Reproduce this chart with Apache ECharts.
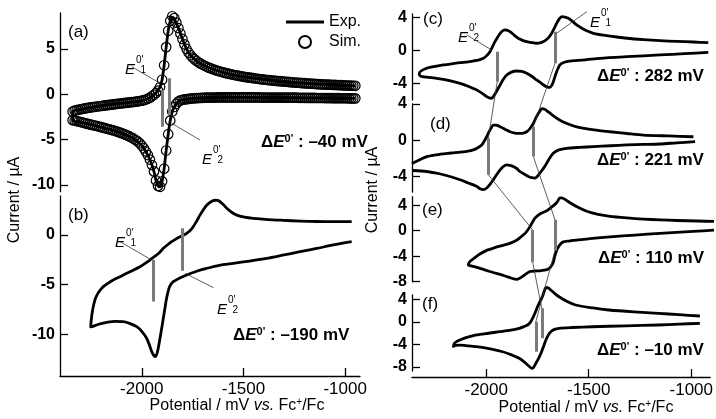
<!DOCTYPE html>
<html><head><meta charset="utf-8">
<script src="https://cdn.jsdelivr.net/npm/echarts@6/dist/echarts.min.js"></script>
<style>html,body{margin:0;padding:0;background:#fff}#c{width:716px;height:419px}</style>
</head><body><div id="c"></div>
<script>
// ---------------- DATA ----------------
const potTicks = [-2000, -1500, -1000];
const curTicksA = [-10, -5, 0, 5];
const curTicksB = [-10, -5, 0];
const curTicksC = [-4, 0, 4];
const curTicksD = [-4, 0, 4];
const curTicksE = [-8, -4, 0, 4];
const curTicksF = [-8, -4, 0, 4];

const panelLabels = ['(a)', '(b)', '(c)', '(d)', '(e)', '(f)'];
const deltaLabels = ['\u201340', '\u2013190', '282', '221', '110', '\u201310'];

// (a) experimental CV [E / mV, I / uA]
const expA = [[-950,-0.45],[-1100,-0.42],[-1300,-0.38],[-1500,-0.35],[-1650,-0.36],[-1750,-0.46],[-1790,-0.58],[-1810,-0.65],[-1830,-1.05],[-1840,-1.4],[-1850,-1.9],[-1860,-2.9],[-1870,-4.4],[-1880,-6.2],[-1890,-8.2],[-1900,-9.6],[-1910,-10.2],[-1920,-10.1],[-1930,-9.5],[-1940,-8.5],[-1960,-7.2],[-1980,-6.3],[-2000,-5.65],[-2040,-4.9],[-2100,-4.28],[-2160,-3.86],[-2220,-3.5],[-2280,-3.18],[-2340,-2.85],
[-2340,-1.9],[-2300,-1.65],[-2200,-1.29],[-2100,-1.0],[-2040,-0.85],[-2000,-0.7],[-1970,-0.5],[-1950,-0.22],[-1930,0.15],[-1910,0.8],[-1900,1.6],[-1890,3.2],[-1880,5.2],[-1870,7.0],[-1860,8.1],[-1850,8.5],[-1840,8.3],[-1820,7.3],[-1800,6.1],[-1780,5.0],[-1760,4.3],[-1720,3.5],[-1680,3.03],[-1620,2.54],[-1550,2.15],[-1450,1.77],[-1350,1.5],[-1250,1.3],[-1150,1.15],[-1050,1.03],[-950,0.93]];

// (a) simulated CV, cathodic sweep then anodic sweep
const simRedA = [[-950,-0.45],[-960,-0.45],[-970,-0.45],[-980,-0.45],[-990,-0.44],[-1000,-0.44],[-1010,-0.44],[-1020,-0.44],[-1030,-0.43],[-1040,-0.43],[-1050,-0.43],[-1060,-0.43],[-1070,-0.42],[-1080,-0.42],[-1090,-0.42],[-1100,-0.42],[-1110,-0.41],[-1120,-0.41],[-1130,-0.41],[-1140,-0.41],[-1150,-0.40],[-1160,-0.40],[-1170,-0.40],[-1180,-0.40],[-1190,-0.40],[-1200,-0.39],[-1210,-0.39],[-1220,-0.39],[-1230,-0.39],[-1240,-0.38],[-1250,-0.38],[-1260,-0.38],[-1270,-0.38],[-1280,-0.38],[-1290,-0.38],[-1300,-0.37],[-1310,-0.37],[-1320,-0.37],[-1330,-0.37],[-1340,-0.37],[-1350,-0.37],[-1360,-0.36],[-1370,-0.36],[-1380,-0.36],[-1390,-0.36],[-1400,-0.36],[-1410,-0.36],[-1420,-0.35],[-1430,-0.35],[-1440,-0.35],[-1450,-0.35],[-1460,-0.35],[-1470,-0.35],[-1480,-0.35],[-1490,-0.35],[-1500,-0.35],[-1510,-0.35],[-1520,-0.35],[-1530,-0.35],[-1540,-0.34],[-1550,-0.34],[-1560,-0.34],[-1570,-0.34],[-1580,-0.34],[-1590,-0.34],[-1600,-0.34],[-1610,-0.35],[-1620,-0.35],[-1630,-0.35],[-1640,-0.36],[-1650,-0.36],[-1660,-0.36],[-1670,-0.37],[-1680,-0.37],[-1690,-0.38],[-1700,-0.39],[-1710,-0.40],[-1720,-0.41],[-1730,-0.43],[-1740,-0.44],[-1750,-0.46],[-1760,-0.48],[-1770,-0.51],[-1780,-0.54],[-1790,-0.57],[-1800,-0.61],[-1810,-0.67],[-1820,-0.8],[-1830,-1.05],[-1840,-1.4],[-1850,-1.9],[-1860,-2.9],[-1870,-4.4],[-1880,-6.2],[-1890,-8.2],[-1900,-9.6],[-1910,-10.2],[-1920,-10.1],[-1930,-9.5],[-1940,-8.5],[-1950,-7.8],[-1960,-7.2],[-1970,-6.7],[-1980,-6.3],[-1990,-5.95],[-2000,-5.65],[-2010,-5.4],[-2020,-5.2],[-2030,-5.05],[-2040,-4.9],[-2050,-4.77],[-2060,-4.65],[-2070,-4.55],[-2080,-4.45],[-2090,-4.36],[-2100,-4.28],[-2110,-4.2],[-2120,-4.12],[-2130,-4.05],[-2140,-3.98],[-2150,-3.92],[-2160,-3.86],[-2170,-3.8],[-2180,-3.74],[-2190,-3.68],[-2200,-3.62],[-2210,-3.56],[-2220,-3.5],[-2230,-3.45],[-2240,-3.4],[-2250,-3.35],[-2260,-3.3],[-2270,-3.24],[-2280,-3.18],[-2290,-3.12],[-2300,-3.06],[-2310,-3.0],[-2320,-2.95],[-2330,-2.9],[-2340,-2.85]];
const simOxA = [[-2340,-1.9],[-2330,-1.8],[-2320,-1.75],[-2310,-1.7],[-2300,-1.65],[-2290,-1.6],[-2280,-1.56],[-2270,-1.52],[-2260,-1.48],[-2250,-1.44],[-2240,-1.41],[-2230,-1.38],[-2220,-1.35],[-2210,-1.32],[-2200,-1.29],[-2190,-1.26],[-2180,-1.23],[-2170,-1.2],[-2160,-1.17],[-2150,-1.14],[-2140,-1.11],[-2130,-1.08],[-2120,-1.05],[-2110,-1.02],[-2100,-1.0],[-2090,-0.97],[-2080,-0.95],[-2070,-0.92],[-2060,-0.9],[-2050,-0.87],[-2040,-0.85],[-2030,-0.82],[-2020,-0.78],[-2010,-0.74],[-2000,-0.7],[-1990,-0.65],[-1980,-0.58],[-1970,-0.49],[-1960,-0.38],[-1950,-0.22],[-1940,-0.05],[-1930,0.15],[-1920,0.4],[-1910,0.8],[-1900,1.6],[-1890,3.2],[-1880,5.2],[-1870,7.0],[-1860,8.1],[-1850,8.6],[-1840,8.4],[-1830,7.9],[-1820,7.3],[-1810,6.7],[-1800,6.1],[-1790,5.5],[-1780,5.0],[-1770,4.6],[-1760,4.3],[-1750,4.05],[-1740,3.85],[-1730,3.67],[-1720,3.5],[-1710,3.37],[-1700,3.25],[-1690,3.14],[-1680,3.03],[-1670,2.94],[-1660,2.85],[-1650,2.76],[-1640,2.68],[-1630,2.61],[-1620,2.54],[-1610,2.48],[-1600,2.42],[-1590,2.36],[-1580,2.3],[-1570,2.25],[-1560,2.2],[-1550,2.15],[-1540,2.1],[-1530,2.06],[-1520,2.02],[-1510,1.98],[-1500,1.94],[-1490,1.9],[-1480,1.87],[-1470,1.83],[-1460,1.8],[-1450,1.77],[-1440,1.74],[-1430,1.71],[-1420,1.68],[-1410,1.65],[-1400,1.62],[-1390,1.6],[-1380,1.57],[-1370,1.55],[-1360,1.52],[-1350,1.5],[-1340,1.48],[-1330,1.46],[-1320,1.44],[-1310,1.42],[-1300,1.4],[-1290,1.38],[-1280,1.36],[-1270,1.34],[-1260,1.32],[-1250,1.3],[-1240,1.28],[-1230,1.27],[-1220,1.25],[-1210,1.23],[-1200,1.22],[-1190,1.2],[-1180,1.19],[-1170,1.17],[-1160,1.16],[-1150,1.14],[-1140,1.13],[-1130,1.11],[-1120,1.1],[-1110,1.09],[-1100,1.08],[-1090,1.07],[-1080,1.06],[-1070,1.05],[-1060,1.04],[-1050,1.03],[-1040,1.02],[-1030,1.01],[-1020,1.0],[-1010,0.99],[-1000,0.98],[-990,0.97],[-980,0.96],[-970,0.95],[-960,0.94],[-950,0.93]];

const expB = [[-968,-0.67],[-1058,-1.0],[-1140,-1.35],[-1222,-1.68],[-1300,-2.0],[-1386,-2.35],[-1470,-2.62],[-1550,-2.85],[-1620,-3.05],[-1681,-3.36],[-1730,-3.65],[-1779,-4.03],[-1815,-4.35],[-1845,-4.7],[-1862,-5.15],[-1872,-5.8],[-1880,-6.6],[-1886,-7.38],[-1895,-8.5],[-1902,-9.4],[-1912,-10.6],[-1919,-11.4],[-1926,-12.0],[-1932,-12.25],[-1940,-12.15],[-1951,-11.75],[-1962,-11.1],[-1976,-10.4],[-2000,-9.7],[-2025,-9.23],[-2060,-8.9],[-2091,-8.73],[-2130,-8.7],[-2172,-8.8],[-2200,-8.93],[-2222,-9.06],[-2240,-9.2],[-2251,-9.25],
[-2248,-8.5],[-2242,-7.6],[-2236,-7.0],[-2228,-6.4],[-2215,-5.85],[-2200,-5.45],[-2189,-5.2],[-2165,-4.85],[-2140,-4.53],[-2107,-4.2],[-2074,-3.86],[-2040,-3.53],[-2009,-3.2],[-1985,-2.88],[-1960,-2.52],[-1945,-2.28],[-1927,-2.01],[-1910,-1.7],[-1894,-1.34],[-1873,-0.98],[-1853,-0.67],[-1830,-0.38],[-1812,-0.17],[-1795,-0.02],[-1779,0.17],[-1762,0.45],[-1747,0.84],[-1730,1.4],[-1714,2.0],[-1697,2.55],[-1681,3.0],[-1660,3.35],[-1640,3.5],[-1627,3.48],[-1615,3.35],[-1598,3.05],[-1582,2.69],[-1560,2.32],[-1533,2.0],[-1495,1.8],[-1452,1.68],[-1380,1.56],[-1304,1.48],[-1220,1.4],[-1140,1.36],[-1050,1.34],[-968,1.34]];

const expC = [[-926,-0.22],[-1040,-0.38],[-1160,-0.54],[-1321,-0.75],[-1451,-0.94],[-1515,-1.1],[-1570,-1.22],[-1612,-1.35],[-1635,-1.55],[-1645,-1.74],[-1655,-2.2],[-1661,-2.55],[-1670,-3.2],[-1677,-3.75],[-1685,-4.2],[-1693,-4.43],[-1705,-4.4],[-1717,-4.27],[-1738,-3.9],[-1758,-3.55],[-1782,-3.1],[-1806,-2.74],[-1830,-2.52],[-1855,-2.47],[-1880,-2.6],[-1903,-2.95],[-1920,-3.5],[-1935,-4.15],[-1952,-4.9],[-1968,-5.56],[-1976,-5.75],[-1988,-5.7],[-2000,-5.56],[-2020,-5.2],[-2048,-4.75],[-2090,-4.3],[-2129,-3.95],[-2170,-3.68],[-2210,-3.47],[-2250,-3.33],[-2291,-3.22],[-2320,-3.1],[-2327,-2.83],
[-2320,-2.5],[-2291,-2.14],[-2250,-1.92],[-2210,-1.74],[-2170,-1.6],[-2129,-1.47],[-2090,-1.36],[-2065,-1.26],[-2040,-1.15],[-2016,-0.94],[-2000,-0.62],[-1984,-0.14],[-1972,0.45],[-1960,1.06],[-1947,1.6],[-1935,2.07],[-1923,2.35],[-1911,2.47],[-1899,2.42],[-1887,2.26],[-1867,1.85],[-1847,1.47],[-1826,1.22],[-1806,1.06],[-1782,0.95],[-1758,0.87],[-1737,0.95],[-1717,1.18],[-1700,1.55],[-1685,2.07],[-1672,2.7],[-1661,3.27],[-1648,3.8],[-1636,4.07],[-1620,4.02],[-1604,3.87],[-1584,3.5],[-1564,3.07],[-1530,2.55],[-1483,2.07],[-1400,1.72],[-1321,1.47],[-1240,1.3],[-1160,1.18],[-1080,1.09],[-998,1.02],[-926,0.94]];

const expD = [[-990,-0.15],[-1080,-0.28],[-1160,-0.41],[-1241,-0.46],[-1321,-0.51],[-1400,-0.6],[-1483,-0.70],[-1550,-0.78],[-1612,-0.88],[-1650,-1.05],[-1677,-1.42],[-1693,-1.9],[-1709,-2.52],[-1725,-3.1],[-1742,-3.61],[-1755,-4.0],[-1766,-4.16],[-1782,-4.12],[-1798,-3.99],[-1820,-3.7],[-1839,-3.44],[-1855,-3.1],[-1871,-2.89],[-1887,-2.76],[-1903,-2.71],[-1920,-2.9],[-1935,-3.25],[-1952,-3.8],[-1968,-4.35],[-1984,-4.85],[-2000,-5.26],[-2016,-5.44],[-2032,-5.35],[-2048,-5.08],[-2090,-4.7],[-2129,-4.35],[-2170,-4.05],[-2210,-3.80],[-2250,-3.6],[-2291,-3.44],[-2362,-3.33]];
const expD2 = [[-2362,-2.55],[-2320,-2.1],[-2291,-1.8],[-2250,-1.62],[-2210,-1.5],[-2170,-1.4],[-2129,-1.31],[-2090,-1.2],[-2065,-1.06],[-2045,-0.85],[-2024,-0.51],[-2012,-0.1],[-2000,0.39],[-1992,0.8],[-1984,1.13],[-1976,1.45],[-1968,1.68],[-1955,1.66],[-1935,1.49],[-1910,1.2],[-1887,0.94],[-1863,0.8],[-1839,0.77],[-1822,0.8],[-1806,0.94],[-1790,1.3],[-1774,1.86],[-1762,2.45],[-1750,2.96],[-1740,3.3],[-1733,3.5],[-1717,3.4],[-1701,3.13],[-1675,2.67],[-1645,2.22],[-1605,1.8],[-1564,1.49],[-1480,1.15],[-1402,0.94],[-1320,0.75],[-1241,0.58],[-1120,0.48],[-998,0.39]];

const expE = [[-893,0.11],[-1000,-0.12],[-1160,-0.42],[-1280,-0.69],[-1402,-0.96],[-1500,-1.25],[-1564,-1.49],[-1600,-1.62],[-1629,-1.76],[-1645,-2.2],[-1655,-2.7],[-1661,-3.09],[-1670,-4.0],[-1677,-4.96],[-1688,-5.6],[-1701,-6.02],[-1720,-6.2],[-1742,-6.29],[-1766,-6.32],[-1790,-6.4],[-1806,-6.7],[-1823,-7.09],[-1840,-7.45],[-1855,-7.62],[-1870,-7.55],[-1887,-7.36],[-1920,-7.0],[-1968,-6.56],[-2010,-6.15],[-2048,-5.76],[-2081,-5.49],[-2089,-5.4],
[-2085,-5.0],[-2075,-4.65],[-2065,-4.42],[-2035,-3.7],[-2000,-3.09],[-1960,-2.65],[-1920,-2.29],[-1885,-1.95],[-1855,-1.49],[-1835,-1.0],[-1814,-0.42],[-1800,0.15],[-1790,0.64],[-1778,1.35],[-1766,1.98],[-1750,2.45],[-1733,2.78],[-1716,3.0],[-1701,3.31],[-1680,3.85],[-1661,4.38],[-1652,4.85],[-1645,5.15],[-1636,5.15],[-1620,4.9],[-1596,4.38],[-1560,3.7],[-1515,3.04],[-1460,2.55],[-1402,2.24],[-1320,2.0],[-1241,1.82],[-1160,1.7],[-1079,1.6],[-980,1.52],[-893,1.44]];

const expF = [[-958,-0.23],[-1060,-0.38],[-1160,-0.53],[-1320,-0.68],[-1483,-0.84],[-1580,-0.98],[-1645,-1.12],[-1670,-1.35],[-1685,-1.73],[-1697,-2.3],[-1709,-3.2],[-1720,-4.3],[-1733,-5.57],[-1745,-6.5],[-1758,-7.35],[-1768,-8.0],[-1774,-8.24],[-1782,-8.15],[-1798,-7.66],[-1815,-7.1],[-1839,-6.46],[-1880,-5.8],[-1920,-5.29],[-1980,-4.8],[-2048,-4.4],[-2100,-4.2],[-2129,-4.1],[-2150,-4.15],[-2160,-4.35],
[-2155,-3.8],[-2145,-3.5],[-2129,-3.2],[-2090,-2.7],[-2048,-2.31],[-1990,-2.0],[-1935,-1.73],[-1880,-1.45],[-1839,-1.12],[-1815,-0.8],[-1798,-0.53],[-1785,-0.05],[-1774,0.66],[-1762,1.6],[-1750,2.72],[-1738,3.65],[-1726,4.5],[-1717,5.5],[-1709,6.1],[-1700,6.1],[-1685,5.7],[-1665,5.05],[-1645,4.5],[-1605,3.65],[-1564,3.03],[-1480,2.5],[-1402,2.14],[-1280,1.8],[-1160,1.55],[-1060,1.3],[-958,1.07]];

// formal potential markers per panel: [E, I top, I bottom]
const barsA = [[-1899, 0.47, -3.57], [-1866, 1.76, -2.29]];
const barsB = [[-1943, -2.5, -6.7], [-1801, 0.67, -3.6]];
const barsC = [[-1949, -0.14, -3.75], [-1669, 2.26, -1.54]];
const barsD = [[-1992, 0.22, -3.8], [-1774, 1.49, -1.8]];
const barsE = [[-1777, 0.11, -4.96], [-1669, 1.71, -3.09]];
const barsF = [[-1758, 0.05, -5.29], [-1729, 2.44, -2.9]];

// leader lines [E1, I1, E2, I2]
const leadersA = [[-2049, 3.04, -1910, 1.21], [-1853, -3.2, -1714, -5.04]];
const leadersB = [[-2107, -0.67, -1951, -2.52], [-1787, -3.86, -1648, -5.3]];
const leadersC = [[-2097, 1.87, -1976, 0.06], [-1661, 2.07, -1515, 4.67]];

// connectors between panels: [panelFrom, E, I, panelTo, E, I]
const connectors = [
  [2, -1949, -3.75, 3, -1992, 0.22],
  [2, -1669, -1.54, 3, -1774, 1.49],
  [3, -1992, -3.8, 4, -1777, 0.11],
  [3, -1774, -1.8, 4, -1669, 1.71],
  [4, -1777, -4.96, 5, -1729, 2.44],
  [4, -1669, -3.09, 5, -1758, 0.05]
];

// ---------------- LAYOUT ----------------
const FF = "'Liberation Sans', Arial, Helvetica, sans-serif";
const grids = [
  {left: 60, top: 13, width: 300, height: 178.7},
  {left: 60, top: 196, width: 300, height: 180},
  {left: 412, top: 14, width: 300, height: 86},
  {left: 412, top: 104, width: 300, height: 88},
  {left: 412, top: 196.7, width: 300, height: 85},
  {left: 412, top: 295, width: 300, height: 76}
];
const yRanges = [[-10.74, 8.96], [-14.2, 3.93], [-5.96, 4.39], [-5.7, 4.0], [-8.0, 5.33], [-8.72, 4.81]];
const yTicks = [curTicksA, curTicksB, curTicksC, curTicksD, curTicksE, curTicksF];
const xRanges = [[-2402, -927], [-2402, -927], [-2362, -908], [-2362, -908], [-2362, -908], [-2362, -908]];
const xShown = [false, true, false, false, false, true];
const xOffset = [0, 0, 0, 0, 0, 6];

const chart = echarts.init(document.getElementById('c'), null, {renderer: 'canvas'});

const xAxes = grids.map((g, i) => ({
  type: 'value', gridIndex: i, min: xRanges[i][0], max: xRanges[i][1], show: xShown[i], offset: xOffset[i],
  axisLine: {show: true, onZero: false, lineStyle: {color: '#000', width: 1.3}},
  axisTick: {show: true, inside: true, length: 8, customValues: potTicks, lineStyle: {color: '#000', width: 1.3}},
  axisLabel: {customValues: potTicks, fontSize: 17, color: '#000', margin: 5, fontFamily: FF, formatter: v => String(v)},
  splitLine: {show: false}
}));
const yAxes = grids.map((g, i) => ({
  type: 'value', gridIndex: i, min: yRanges[i][0], max: yRanges[i][1],
  axisLine: {show: true, onZero: false, lineStyle: {color: '#000', width: 1.3}},
  axisTick: {show: true, inside: true, length: 8, customValues: yTicks[i], lineStyle: {color: '#000', width: 1.3}},
  axisLabel: {customValues: yTicks[i], fontSize: 16, fontWeight: 'bold', color: '#000', margin: 5, fontFamily: FF, formatter: v => String(v)},
  splitLine: {show: false}
}));

const exps = [[expA], [expB], [expC], [expD, expD2], [expE], [expF]];
const bars = [barsA, barsB, barsC, barsD, barsE, barsF];
const leaders = [leadersA, leadersB, leadersC];

const series = [];
exps.forEach((list, i) => {
  list.forEach((d, k) => {
    series.push({
      name: (i === 0 && k === 0) ? 'Exp.' : 'exp' + i + '_' + k, type: 'line', xAxisIndex: i, yAxisIndex: i, data: d,
      symbol: 'none', showSymbol: false, smooth: 0.25, clip: false, z: 3,
      lineStyle: {color: '#000', width: 2.8, join: 'round'}, itemStyle: {color: '#000'}
    });
  });
});
series.push({
  name: 'Sim.', type: 'scatter', xAxisIndex: 0, yAxisIndex: 0, data: simRedA.concat(simOxA), symbol: 'circle', symbolSize: 9.5, z: 4,
  itemStyle: {color: 'rgba(0,0,0,0)', borderColor: '#000', borderWidth: 1.2, opacity: 1}
});
bars.forEach((b, i) => {
  series.push({
    type: 'lines', coordinateSystem: 'cartesian2d', xAxisIndex: i, yAxisIndex: i, z: 5, silent: true,
    data: b.map(r => ({coords: [[r[0], r[1]], [r[0], r[2]]]})),
    lineStyle: {color: '#7a7a7a', width: 3, opacity: 1}
  });
});
leaders.forEach((l, i) => {
  series.push({
    type: 'lines', coordinateSystem: 'cartesian2d', xAxisIndex: i, yAxisIndex: i, z: 5, silent: true, clip: false,
    data: l.map(r => ({coords: [[r[0], r[1]], [r[2], r[3]]]})),
    lineStyle: {color: '#333', width: 0.8, opacity: 1}
  });
});

// text helpers
function eLabel(x, yb, sub) {
  return {type: 'group', children: [
    {type: 'text', x: x, y: yb, style: {text: 'E', font: 'italic 15px ' + FF, fill: '#000', verticalAlign: 'alphabetic'}},
    {type: 'text', x: x + 11, y: yb - 6.5, style: {text: "0'", font: '10px ' + FF, fill: '#000', verticalAlign: 'alphabetic'}},
    {type: 'text', x: x + 15.5, y: yb + 3, style: {text: sub, font: '10px ' + FF, fill: '#000', verticalAlign: 'alphabetic'}}
  ]};
}
function deltaText(x, y, val) {
  return {type: 'text', x: x, y: y, style: {
    text: '{d|\u0394}{e|E}{s|0\'}{t| : ' + val + ' mV}', verticalAlign: 'middle', align: 'left',
    rich: {
      d: {fontSize: 17, fontWeight: 'bold', fontFamily: FF, fill: '#000', lineHeight: 18},
      e: {fontSize: 17, fontWeight: 'bold', fontStyle: 'italic', fontFamily: FF, fill: '#000', lineHeight: 18},
      s: {fontSize: 11, fontWeight: 'bold', fontFamily: FF, fill: '#000', verticalAlign: 'top', lineHeight: 11},
      t: {fontSize: 17, fontWeight: 'bold', fontFamily: FF, fill: '#000', lineHeight: 18}
    }
  }};
}
function potTitle(x, y) {
  return {type: 'text', x: x, y: y, style: {
    text: '{a|Potential / mV }{i|vs.}{a| Fc}{s|+}{a|/Fc}', align: 'center', verticalAlign: 'middle',
    rich: {
      a: {fontSize: 16, fontFamily: FF, fill: '#000', lineHeight: 18},
      i: {fontSize: 16, fontStyle: 'italic', fontFamily: FF, fill: '#000', lineHeight: 18},
      s: {fontSize: 10, fontFamily: FF, fill: '#000', verticalAlign: 'top', lineHeight: 10}
    }
  }};
}
function curTitle(x, y) {
  return {type: 'text', x: x, y: y, rotation: Math.PI / 2, style: {
    text: 'Current / \u00b5A', font: '16px ' + FF, fill: '#000', align: 'center', verticalAlign: 'middle'
  }};
}
const panelPos = [[68, 32], [68, 215], [423, 19], [430, 124], [422, 210], [422, 304]];
const deltaPos = [[261, 142], [233, 335], [597, 76], [597, 160], [598, 258], [597, 350]];

const graphic = [];
panelLabels.forEach((t, i) => graphic.push({type: 'text', x: panelPos[i][0], y: panelPos[i][1],
  style: {text: t, font: '17px ' + FF, fill: '#000', verticalAlign: 'middle'}}));
deltaLabels.forEach((t, i) => graphic.push(deltaText(deltaPos[i][0], deltaPos[i][1], t)));
graphic.push(eLabel(125, 62, '1'), eLabel(202, 152, '2'), eLabel(115, 235, '1'), eLabel(217, 302, '2'),
  eLabel(458, 30, '2'), eLabel(590, 15, '1'));
graphic.push(potTitle(237, 406), potTitle(586, 408));
graphic.push(curTitle(15, 200), curTitle(373, 190));

chart.setOption({
  animation: false,
  backgroundColor: '#fff',
  textStyle: {fontFamily: FF},
  grid: grids,
  xAxis: xAxes,
  yAxis: yAxes,
  legend: {
    data: [{name: 'Exp.', icon: 'path://M0,0H38V3H0Z', itemStyle: {color: '#000', borderWidth: 0}}, {name: 'Sim.'}],
    orient: 'vertical', left: 286, top: 14, itemWidth: 38, itemHeight: 12, itemGap: 4, symbolKeepAspect: true,
    selectedMode: false, textStyle: {fontSize: 16, color: '#000', fontFamily: FF}, padding: 0
  },
  series: series,
  graphic: graphic
});

// connectors across stacked panels
const conn = connectors.map((c, k) => {
  const p1 = chart.convertToPixel({gridIndex: c[0]}, [c[1], c[2]]);
  const p2 = chart.convertToPixel({gridIndex: c[3]}, [c[4], c[5]]);
  return {type: 'line', z: 10, shape: {x1: p1[0], y1: p1[1], x2: p2[0], y2: p2[1]}, style: {stroke: '#333', lineWidth: 0.8}};
});
chart.setOption({graphic: graphic.concat(conn)});
</script></body></html>
